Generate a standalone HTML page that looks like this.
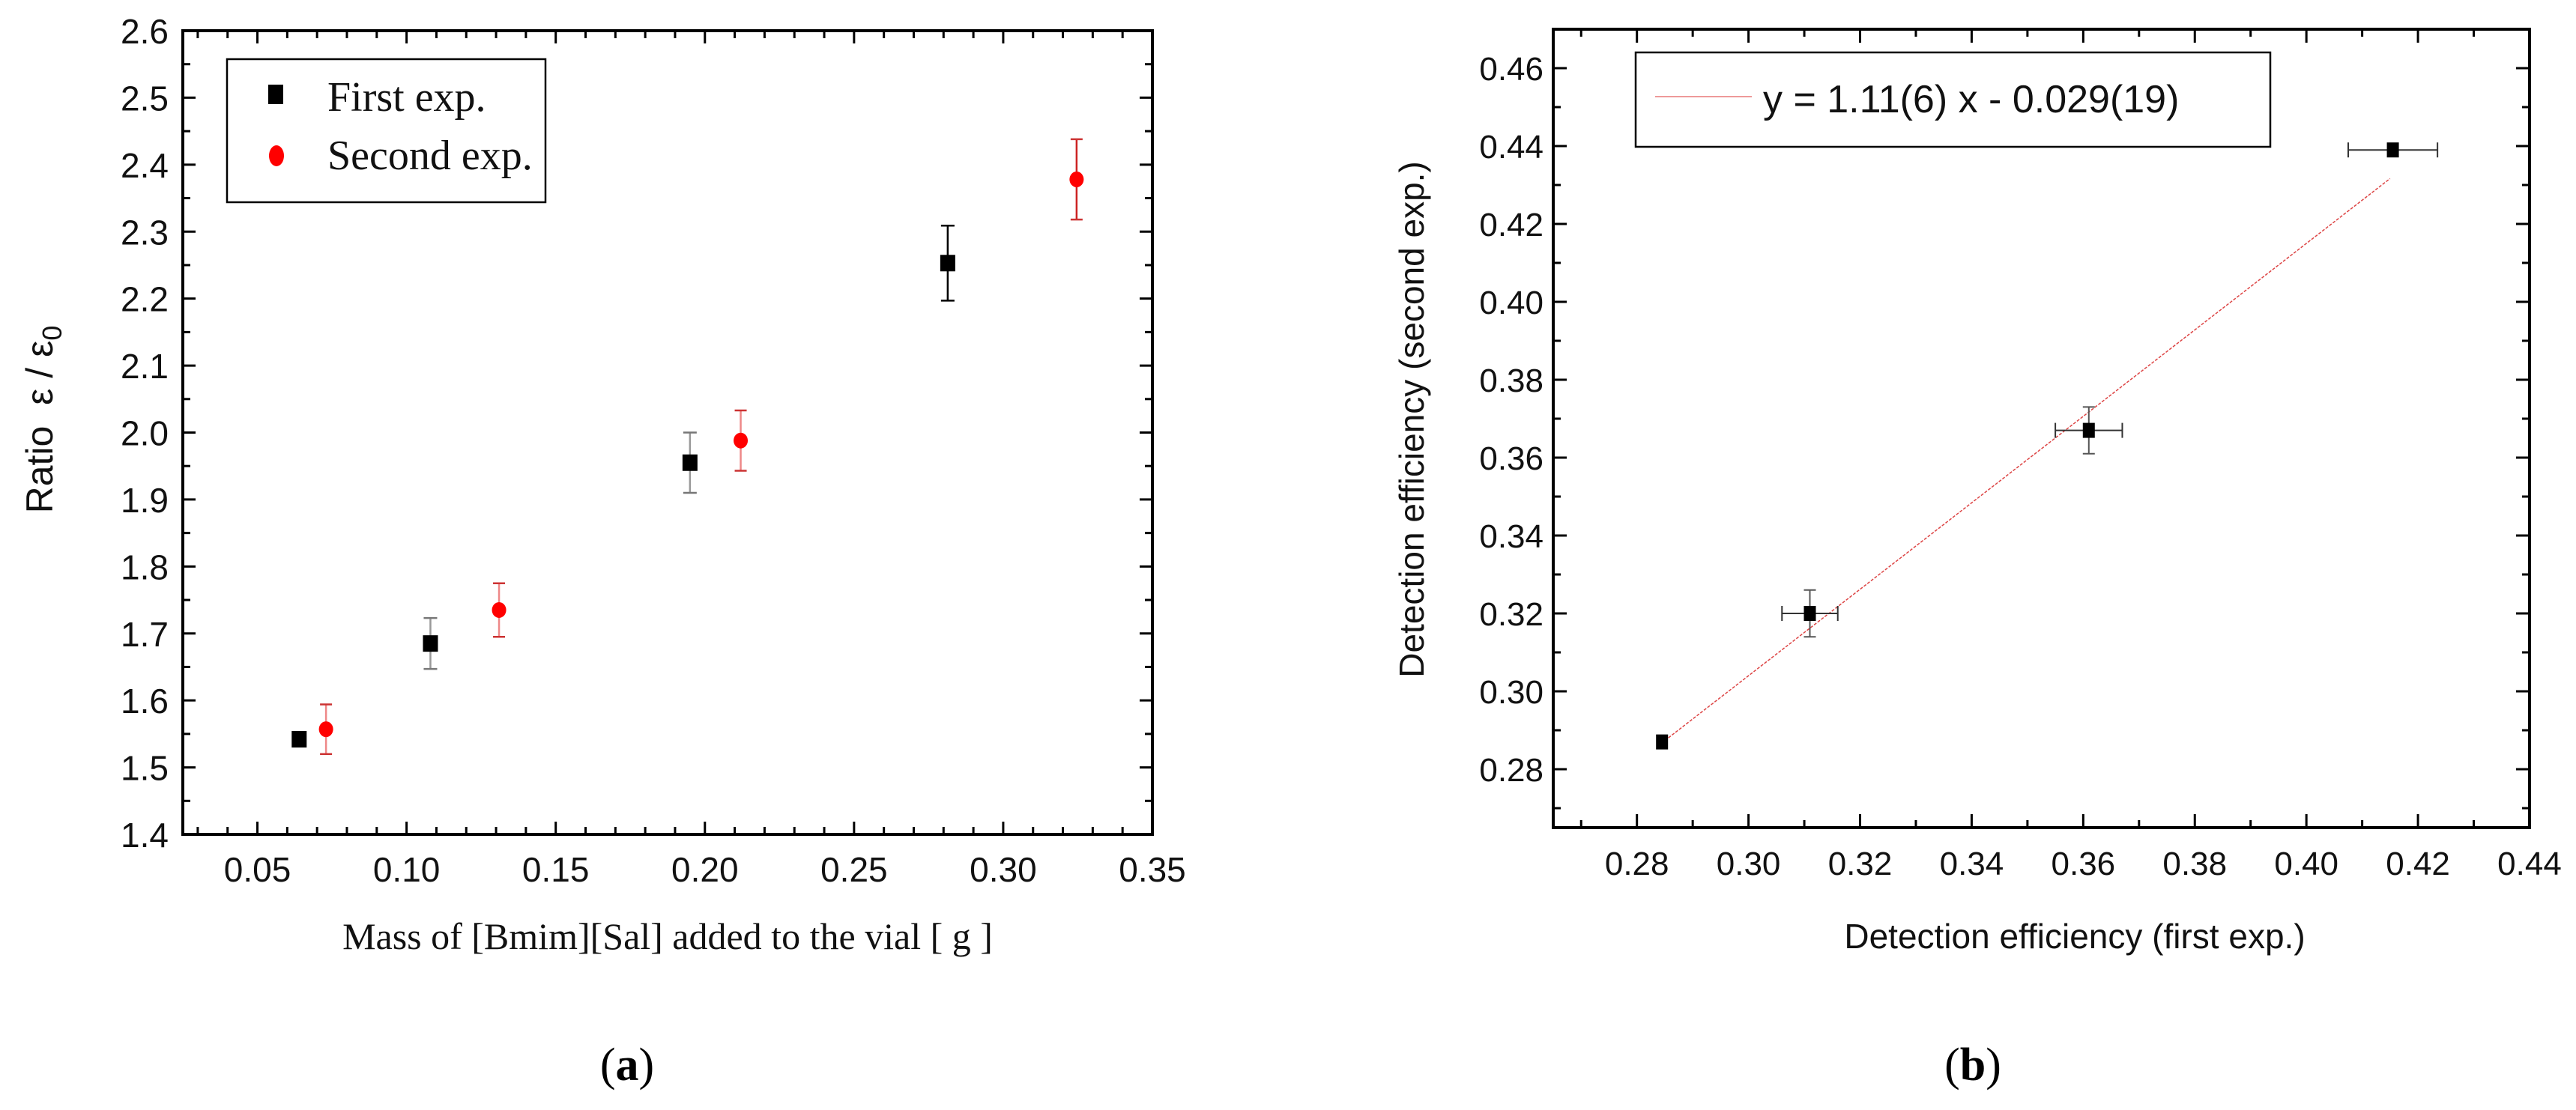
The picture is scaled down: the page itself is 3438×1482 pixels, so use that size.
<!DOCTYPE html>
<html><head><meta charset="utf-8"><style>
html,body{margin:0;padding:0;background:#fff;}
svg{display:block;}
.sans{font-family:"Liberation Sans",sans-serif;}
.serif{font-family:"Liberation Serif",serif;}
</style></head><body>
<svg id="fig" width="3438" height="1482" viewBox="0 0 3438 1482" xmlns="http://www.w3.org/2000/svg">
<g id="pa"></g>
<g id="pb"></g>
</svg>
<script>
// Panel (a) data
const aX1 = [0.064, 0.108, 0.195, 0.2814];
const aY1 = [1.542, 1.685, 1.955, 2.253];
const aE1 = [0.0, 0.038, 0.045, 0.056];
const aX2 = [0.073, 0.131, 0.212, 0.3246];
const aY2 = [1.557, 1.735, 1.988, 2.378];
const aE2 = [0.037, 0.04, 0.045, 0.06];
const aXTicks = ["0.05","0.10","0.15","0.20","0.25","0.30","0.35"];
const aYTicks = ["1.4","1.5","1.6","1.7","1.8","1.9","2.0","2.1","2.2","2.3","2.4","2.5","2.6"];
// Panel (b) data
const bX = [0.2845, 0.311, 0.361, 0.4155];
const bY = [0.287, 0.320, 0.367, 0.439];
const bXErr = [0.0, 0.005, 0.006, 0.008];
const bYErr = [0.0, 0.006, 0.006, 0.0];
const bFitSlope = [1.11];
const bFitIntercept = [-0.029];
const bFitRange = [0.285, 0.415];
const bXTicks = ["0.28","0.30","0.32","0.34","0.36","0.38","0.40","0.42","0.44"];
const bYTicks = ["0.28","0.30","0.32","0.34","0.36","0.38","0.40","0.42","0.44","0.46"];

const NS = "http://www.w3.org/2000/svg";
function mk(parent, tag, attrs, txt){
  const e = document.createElementNS(NS, tag);
  for (const k in attrs) e.setAttribute(k, attrs[k]);
  if (txt !== undefined) e.textContent = txt;
  parent.appendChild(e);
  return e;
}

// ---------- Panel A ----------
const pa = document.getElementById('pa');
const A = {l:244, r:1538, t:41, b:1114, x0:0.025, x1:0.35, y0:1.4, y1:2.6};
const ax = v => A.l + (v - A.x0) / (A.x1 - A.x0) * (A.r - A.l);
const ay = v => A.b - (v - A.y0) / (A.y1 - A.y0) * (A.b - A.t);

let fr = mk(pa, 'rect', {x:A.l, y:A.t, width:A.r-A.l, height:A.b-A.t, fill:'none', stroke:'#000', 'stroke-width':4});



for (let i = 3; i <= 35; i++) {
  const v = i / 100, X = ax(v);
  if (X < A.l + 2 || X > A.r - 2) continue;
  const major = i % 5 === 0;
  const len = major ? 17 : 10;
  const t1 = mk(pa, 'line', {x1:X, y1:A.b, x2:X, y2:A.b-len, stroke:'#000', 'stroke-width':3});
  
  
  const t2 = mk(pa, 'line', {x1:X, y1:A.t, x2:X, y2:A.t+len, stroke:'#000', 'stroke-width':3});
  
  
}
aXTicks.forEach(s => {
  const v = parseFloat(s);
  const t = mk(pa, 'text', {x:ax(v), y:1177, 'text-anchor':'middle', 'font-size':46, class:'sans', fill:'#111'}, s);
  
  
});
for (let i = 28; i <= 52; i++) {
  const v = i / 20, Y = ay(v);
  const major = i % 2 === 0;
  const len = major ? 17 : 10;
  const t1 = mk(pa, 'line', {x1:A.l, y1:Y, x2:A.l+len, y2:Y, stroke:'#000', 'stroke-width':3});
  
  
  const t2 = mk(pa, 'line', {x1:A.r, y1:Y, x2:A.r-len, y2:Y, stroke:'#000', 'stroke-width':3});
  
  
}
aYTicks.forEach(s => {
  const v = parseFloat(s);
  const t = mk(pa, 'text', {x:225, y:ay(v)+17, 'text-anchor':'end', 'font-size':46, class:'sans', fill:'#111'}, s);
  
  
});

aX1.forEach((xv, i) => {
  const X = ax(xv), Y = ay(aY1[i]);
  if (aE1[i] > 0) {
    const e = mk(pa, 'line', {x1:X, y1:ay(aY1[i]+aE1[i]), x2:X, y2:ay(aY1[i]-aE1[i]), stroke: i===3?'#000':'#999', 'stroke-width':2.5});
    
    
    [aY1[i]+aE1[i], aY1[i]-aE1[i]].forEach(c => {
      const cap = mk(pa, 'line', {x1:X-9, y1:ay(c), x2:X+9, y2:ay(c), stroke: i===3?'#000':'#777', 'stroke-width':2.5});
      
      
    });
  }
  const m = mk(pa, 'rect', {x:X-10, y:Y-11, width:20, height:22, fill:'#000'});
  
  
});
aX2.forEach((xv, i) => {
  const X = ax(xv), Y = ay(aY2[i]);
  const col = i === 3 ? '#c22' : '#e88';
  const e = mk(pa, 'line', {x1:X, y1:ay(aY2[i]+aE2[i]), x2:X, y2:ay(aY2[i]-aE2[i]), stroke:col, 'stroke-width':2.5});
  
  
  [aY2[i]+aE2[i], aY2[i]-aE2[i]].forEach(c => {
    const cap = mk(pa, 'line', {x1:X-8, y1:ay(c), x2:X+8, y2:ay(c), stroke:'#c33', 'stroke-width':2.5});
    
    
  });
  const m = mk(pa, 'ellipse', {cx:X, cy:Y, rx:9.5, ry:10.5, fill:'#f00'});
  
  
});

const lga = mk(pa, 'g', {});


mk(lga, 'rect', {x:303, y:79, width:425, height:191, fill:'#fff', stroke:'#000', 'stroke-width':2.5});
const lm1 = mk(lga, 'rect', {x:358, y:113, width:20, height:26, fill:'#000'});


const lt1 = mk(lga, 'text', {x:437, y:148, 'font-size':56, class:'serif', fill:'#111'}, 'First exp.');


const lm2 = mk(lga, 'ellipse', {cx:369, cy:208, rx:10, ry:14, fill:'#f00'});


const lt2 = mk(lga, 'text', {x:437, y:226, 'font-size':56, class:'serif', fill:'#111'}, 'Second exp.');



const xta = mk(pa, 'text', {x:891, y:1267, 'text-anchor':'middle', 'font-size':50, class:'serif', fill:'#111'}, 'Mass of [Bmim][Sal] added to the vial [ g ]');


const yta = mk(pa, 'text', {x:0, y:0, 'text-anchor':'middle', 'font-size':50, class:'sans', fill:'#111', transform:'translate(70,560) rotate(-90)'});


yta.innerHTML = 'Ratio&#160;&#160;ε / ε<tspan font-size="36" dy="12">0</tspan>';
const capA = mk(pa, 'text', {x:837, y:1442, 'text-anchor':'middle', 'font-size':62, class:'serif', fill:'#000'});


capA.innerHTML = '(<tspan font-weight="bold">a</tspan>)';

// ---------- Panel B ----------
const pb = document.getElementById('pb');
const B = {l:2073, r:3376, t:39, b:1105, x0:0.265, x1:0.44, y0:0.265, y1:0.47};
const bx = v => B.l + (v - B.x0) / (B.x1 - B.x0) * (B.r - B.l);
const by = v => B.b - (v - B.y0) / (B.y1 - B.y0) * (B.b - B.t);

const frb = mk(pb, 'rect', {x:B.l, y:B.t, width:B.r-B.l, height:B.b-B.t, fill:'none', stroke:'#000', 'stroke-width':4});


for (let i = 27; i <= 44; i++) {
  const v = i / 100, X = bx(v);
  if (X < B.l + 2 || X > B.r - 2) continue;
  const major = i % 2 === 0, len = major ? 18 : 10;
  const t1 = mk(pb, 'line', {x1:X, y1:B.b, x2:X, y2:B.b-len, stroke:'#000', 'stroke-width':3});
  
  
  const t2 = mk(pb, 'line', {x1:X, y1:B.t, x2:X, y2:B.t+len, stroke:'#000', 'stroke-width':3});
  
  
}
for (let i = 27; i <= 47; i++) {
  const v = i / 100, Y = by(v);
  if (Y > B.b - 2 || Y < B.t + 2) continue;
  const major = i % 2 === 0, len = major ? 18 : 10;
  const t1 = mk(pb, 'line', {x1:B.l, y1:Y, x2:B.l+len, y2:Y, stroke:'#000', 'stroke-width':3});
  
  
  const t2 = mk(pb, 'line', {x1:B.r, y1:Y, x2:B.r-len, y2:Y, stroke:'#000', 'stroke-width':3});
  
  
}
bXTicks.forEach(s => {
  const v = parseFloat(s);
  const t = mk(pb, 'text', {x:bx(v), y:1168, 'text-anchor':'middle', 'font-size':44, class:'sans', fill:'#111'}, s);
  
  
});
bYTicks.forEach(s => {
  const v = parseFloat(s);
  const t = mk(pb, 'text', {x:2060, y:by(v)+16, 'text-anchor':'end', 'font-size':44, class:'sans', fill:'#111'}, s);
  
  
});
const fl = mk(pb, 'line', {x1:bx(bFitRange[0]), y1:by(bFitSlope[0]*bFitRange[0]+bFitIntercept[0]), x2:bx(bFitRange[1]), y2:by(bFitSlope[0]*bFitRange[1]+bFitIntercept[0]), stroke:'#d44', 'stroke-width':1.5, 'stroke-dasharray':'4 2'});


bX.forEach((xv, i) => {
  const X = bx(xv), Y = by(bY[i]);
  if (bXErr[i] > 0) {
    const e = mk(pb, 'line', {x1:bx(xv-bXErr[i]), y1:Y, x2:bx(xv+bXErr[i]), y2:Y, stroke:'#333', 'stroke-width':2});
    
    
    [xv-bXErr[i], xv+bXErr[i]].forEach(c => {
      const cap = mk(pb, 'line', {x1:bx(c), y1:Y-10, x2:bx(c), y2:Y+10, stroke:'#333', 'stroke-width':2});
      
      
    });
  }
  if (bYErr[i] > 0) {
    const e = mk(pb, 'line', {x1:X, y1:by(bY[i]+bYErr[i]), x2:X, y2:by(bY[i]-bYErr[i]), stroke:'#555', 'stroke-width':2});
    
    
    [bY[i]+bYErr[i], bY[i]-bYErr[i]].forEach(c => {
      const cap = mk(pb, 'line', {x1:X-8, y1:by(c), x2:X+8, y2:by(c), stroke:'#555', 'stroke-width':2});
      
      
    });
  }
  const m = mk(pb, 'rect', {x:X-8, y:Y-10, width:16, height:20, fill:'#000'});
  
  
});
const lgb = mk(pb, 'g', {});


mk(lgb, 'rect', {x:2183, y:70, width:847, height:126, fill:'#fff', stroke:'#000', 'stroke-width':2.5});
const lbl = mk(lgb, 'line', {x1:2209, y1:129, x2:2338, y2:129, stroke:'#e99', 'stroke-width':2});


const lbt = mk(lgb, 'text', {x:2353, y:150, 'font-size':52, class:'sans', fill:'#111'}, 'y = 1.11(6) x - 0.029(19)');


const xtb = mk(pb, 'text', {x:2769, y:1266, 'text-anchor':'middle', 'font-size':46, class:'sans', fill:'#111'}, 'Detection efficiency (first exp.)');


const ytb = mk(pb, 'text', {x:0, y:0, 'text-anchor':'middle', 'font-size':46, class:'sans', fill:'#111', transform:'translate(1900,560) rotate(-90)'}, 'Detection efficiency (second exp.)');


const capB = mk(pb, 'text', {x:2633, y:1442, 'text-anchor':'middle', 'font-size':62, class:'serif', fill:'#000'});


capB.innerHTML = '(<tspan font-weight="bold">b</tspan>)';
</script>
</body></html>
